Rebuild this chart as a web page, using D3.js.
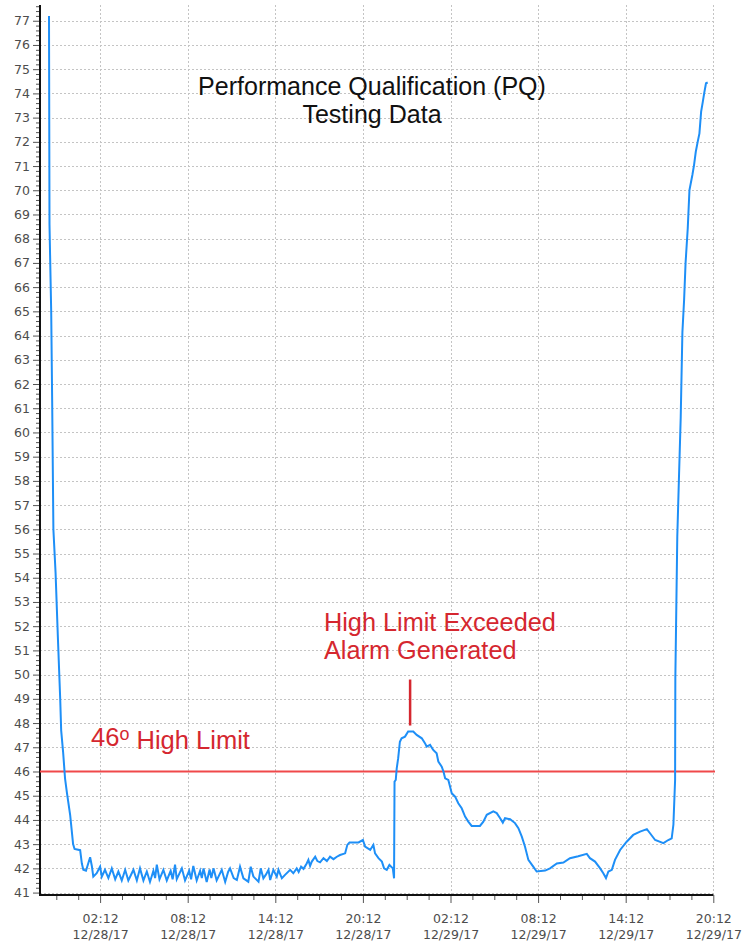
<!DOCTYPE html>
<html><head><meta charset="utf-8">
<script src="https://cdn.jsdelivr.net/npm/d3@7"></script>
<style>body{margin:0;background:#fff}svg{display:block}</style>
</head><body><svg id="chart" width="743" height="942"></svg>
<script>
// ---- data ----
const times = [
"12/27/17 22:42","12/27/17 22:44","12/27/17 22:51","12/27/17 22:55","12/27/17 23:00","12/27/17 23:09","12/27/17 23:19","12/27/17 23:28","12/27/17 23:32","12/27/17 23:40","12/27/17 23:48","12/27/17 23:56",
"12/28/17 00:09","12/28/17 00:21","12/28/17 00:27","12/28/17 00:50","12/28/17 00:57","12/28/17 01:03","12/28/17 01:14","12/28/17 01:20","12/28/17 01:31","12/28/17 01:38","12/28/17 01:44","12/28/17 01:58",
"12/28/17 02:12","12/28/17 02:19","12/28/17 02:32","12/28/17 02:46","12/28/17 03:00","12/28/17 03:14","12/28/17 03:27","12/28/17 03:41","12/28/17 03:55","12/28/17 04:08","12/28/17 04:29","12/28/17 04:43",
"12/28/17 04:56","12/28/17 05:10","12/28/17 05:24","12/28/17 05:37","12/28/17 05:51","12/28/17 05:58","12/28/17 06:05","12/28/17 06:16","12/28/17 06:32","12/28/17 06:46","12/28/17 07:02","12/28/17 07:10",
"12/28/17 07:20","12/28/17 07:27","12/28/17 07:48","12/28/17 08:01","12/28/17 08:18","12/28/17 08:26","12/28/17 08:35","12/28/17 08:49","12/28/17 09:03","12/28/17 09:10","12/28/17 09:17","12/28/17 09:30",
"12/28/17 09:42","12/28/17 09:49","12/28/17 09:58","12/28/17 10:11","12/28/17 10:32","12/28/17 10:46","12/28/17 10:58","12/28/17 11:06","12/28/17 11:21","12/28/17 11:34","12/28/17 11:47","12/28/17 12:01",
"12/28/17 12:21","12/28/17 12:31","12/28/17 12:42","12/28/17 13:03","12/28/17 13:12","12/28/17 13:23","12/28/17 13:34","12/28/17 13:44","12/28/17 13:51","12/28/17 14:04","12/28/17 14:18","12/28/17 14:25",
"12/28/17 14:39","12/28/17 14:52","12/28/17 15:13","12/28/17 15:26","12/28/17 15:40","12/28/17 15:48","12/28/17 15:58","12/28/17 16:08","12/28/17 16:21","12/28/17 16:28","12/28/17 16:35","12/28/17 16:42",
"12/28/17 16:56","12/28/17 17:05","12/28/17 17:16","12/28/17 17:30","12/28/17 17:44","12/28/17 17:57","12/28/17 18:11","12/28/17 18:25","12/28/17 18:38","12/28/17 18:59","12/28/17 19:08","12/28/17 19:17",
"12/28/17 19:54","12/28/17 20:12","12/28/17 20:21","12/28/17 20:42","12/28/17 20:55","12/28/17 21:02","12/28/17 21:16","12/28/17 21:30","12/28/17 21:39","12/28/17 21:50","12/28/17 22:01","12/28/17 22:15",
"12/28/17 22:20","12/28/17 22:22","12/28/17 22:27","12/28/17 22:31","12/28/17 22:37","12/28/17 22:44","12/28/17 22:51","12/28/17 23:05","12/28/17 23:18","12/28/17 23:39","12/28/17 23:53",
"12/29/17 00:14","12/29/17 00:27","12/29/17 00:34","12/29/17 00:48","12/29/17 01:01","12/29/17 01:15","12/29/17 01:22","12/29/17 01:36","12/29/17 01:43","12/29/17 01:50","12/29/17 02:03","12/29/17 02:10",
"12/29/17 02:17","12/29/17 02:31","12/29/17 02:44","12/29/17 02:58","12/29/17 03:12","12/29/17 03:25","12/29/17 03:39","12/29/17 04:13","12/29/17 04:27","12/29/17 04:41","12/29/17 05:08","12/29/17 05:22",
"12/29/17 05:36","12/29/17 05:47","12/29/17 05:56","12/29/17 06:17","12/29/17 06:37","12/29/17 06:51","12/29/17 07:05","12/29/17 07:18","12/29/17 07:32","12/29/17 07:52","12/29/17 08:06","12/29/17 08:41",
"12/29/17 09:01","12/29/17 09:29","12/29/17 09:56","12/29/17 10:23","12/29/17 10:57","12/29/17 11:32","12/29/17 11:45","12/29/17 12:06","12/29/17 12:27","12/29/17 12:40","12/29/17 12:51","12/29/17 13:01",
"12/29/17 13:15","12/29/17 13:28","12/29/17 13:49","12/29/17 14:16","12/29/17 14:43","12/29/17 15:11","12/29/17 15:39","12/29/17 15:52","12/29/17 16:13","12/29/17 16:47","12/29/17 17:07","12/29/17 17:21",
"12/29/17 17:28","12/29/17 17:35","12/29/17 17:36","12/29/17 17:44","12/29/17 17:51","12/29/17 17:58","12/29/17 18:05","12/29/17 18:12","12/29/17 18:18","12/29/17 18:27","12/29/17 18:34","12/29/17 18:46",
"12/29/17 18:53","12/29/17 19:00","12/29/17 19:08","12/29/17 19:15","12/29/17 19:22","12/29/17 19:29","12/29/17 19:35","12/29/17 19:42","12/29/17 19:49"
];
const temps = [
77.2,68.6,65.0,61.3,56.0,54.2,51.4,49.0,47.7,46.8,45.7,45.1,
44.2,43.0,42.8,42.75,42.2,41.94,41.9,42.1,42.46,42.1,41.66,41.8,
42.07,41.66,41.94,41.6,42.0,41.55,41.87,41.5,41.94,41.5,41.94,41.5,
42.0,41.5,41.87,41.44,41.9,41.6,42.15,41.55,41.94,41.5,41.9,41.55,
42.15,41.55,42.0,41.5,41.9,41.55,42.1,41.5,41.9,41.6,42.0,41.44,
41.95,41.6,42.0,41.5,41.94,41.44,41.85,42.0,41.6,41.52,42.07,41.59,
41.45,42.07,41.66,41.45,42.0,41.59,41.75,41.94,41.52,41.94,41.66,41.94,
41.59,41.73,41.94,41.8,42.0,41.85,42.07,41.98,42.2,42.35,42.1,42.28,
42.48,42.3,42.25,42.42,42.3,42.48,42.38,42.48,42.55,42.62,42.97,43.07,
43.07,43.17,42.9,42.76,42.97,42.62,42.42,42.28,42.0,41.94,42.14,42.0,
41.59,45.58,45.65,46.13,46.55,47.23,47.37,47.44,47.65,47.65,47.51,
47.37,47.17,47.03,47.1,46.89,46.75,46.41,46.2,46.0,45.72,45.65,45.38,
45.1,44.96,44.69,44.48,44.14,43.93,43.75,43.75,43.93,44.21,44.35,44.28,
44.07,43.89,44.07,44.03,43.87,43.66,43.31,42.9,42.35,42.07,41.87,41.91,
42.0,42.2,42.24,42.42,42.5,42.6,42.42,42.28,42.0,41.8,41.6,41.87,
41.94,42.35,42.76,43.1,43.38,43.52,43.62,43.45,43.17,43.04,43.17,43.24,
43.8,45.65,49.85,55.7,58.18,60.59,64.14,65.47,66.99,68.43,70.01,70.63,
71.05,71.59,72.01,72.35,73.25,73.66,74.03,74.42,74.45
];
const xTickTimes = ["12/28/17 02:12","12/28/17 08:12","12/28/17 14:12","12/28/17 20:12","12/29/17 02:12","12/29/17 08:12","12/29/17 14:12","12/29/17 20:12"];
const yTickValues = [41,42,43,44,45,46,47,48,49,50,51,52,53,54,55,56,57,58,59,60,61,62,63,64,65,66,67,68,69,70,71,72,73,74,75,76,77];
const xDomainTimes = ["12/27/17 22:05","12/29/17 20:12"];
const yDomain = [40.9, 77.65];
const highLimit = 46;
const alarmTime = "12/28/17 23:26";
const titleLines = ["Performance Qualification (PQ)", "Testing Data"];
const alarmLines = ["High Limit Exceeded", "Alarm Generated"];
const limitLabel = ["46", "o", " High Limit"];

// ---- drawing ----
(function draw() {
const parse = d3.timeParse("%m/%d/%y %H:%M");
const data = times.map((t, i) => ({t: parse(t), v: temps[i]}));
const svg = d3.select("#chart");
svg.append("rect").attr("width", 743).attr("height", 942).attr("fill", "#fff");

const pL = 40, pR = 713.3, pT = 5, pB = 895, gridRight = 715;
const x = d3.scaleTime().domain(xDomainTimes.map(parse)).range([pL, pR]);
const y = d3.scaleLinear().domain(yDomain).range([pB, pT]);
const xMajor = xTickTimes.map(parse);

// grid
const grid = svg.append("g").attr("stroke", "#c4c4c4").attr("stroke-width", 1).attr("stroke-dasharray", "2,2");
grid.selectAll("line.h").data(yTickValues).join("line").attr("class", "h")
  .attr("x1", pL).attr("x2", gridRight).attr("y1", d => Math.round(y(d)) + 0.5).attr("y2", d => Math.round(y(d)) + 0.5);
grid.selectAll("line.v").data(xMajor).join("line").attr("class", "v")
  .attr("y1", pT).attr("y2", pB).attr("x1", d => Math.round(x(d)) + 0.5).attr("x2", d => Math.round(x(d)) + 0.5);

// minor ticks
const yMinor = d3.range(Math.ceil(yDomain[0] * 5), Math.floor(yDomain[1] * 5) + 1).map(k => k / 5)
  .filter(v => Math.abs(v - Math.round(v)) > 1e-6);
const xMinor = [];
{
  const step = 90;
  let t = d3.timeMinute.offset(xMajor[0], -step * 4);
  while (t <= x.domain()[1]) { if (t >= x.domain()[0] && !xMajor.some(m => +m === +t)) xMinor.push(t); t = d3.timeMinute.offset(t, step); }
}
const tickColor = "#555";
const gYm = svg.append("g").attr("transform", `translate(${pL},0)`).call(d3.axisLeft(y).tickValues(yMinor).tickSize(4).tickFormat(""));
const gXm = svg.append("g").attr("transform", `translate(0,${pB})`).call(d3.axisBottom(x).tickValues(xMinor).tickSize(5).tickFormat(""));
const gY = svg.append("g").attr("transform", `translate(${pL},0)`).call(d3.axisLeft(y).tickValues(yTickValues).tickSize(7).tickPadding(3).tickFormat(d3.format("d")));
const gX = svg.append("g").attr("transform", `translate(0,${pB})`).call(d3.axisBottom(x).tickValues(xMajor).tickSize(8).tickFormat(""));

[gYm, gXm, gY, gX].forEach(g => {
  g.select(".domain").remove();
  g.selectAll(".tick line").attr("stroke", tickColor).attr("stroke-width", 1);
});
gY.selectAll(".tick text").attr("font-family", "DejaVu Sans").attr("font-size", 12.5).attr("fill", "#4d4d4d");

// x tick labels (two lines)
const fTime = d3.timeFormat("%H:%M"), fDate = d3.timeFormat("%m/%d/%y");
gX.selectAll(".tick").each(function(d) {
  const t = d3.select(this).select("text");
  t.text(null).attr("y", null).attr("dy", null)
    .attr("font-family", "DejaVu Sans").attr("font-size", 12.5).attr("fill", "#4d4d4d").attr("text-anchor", "middle");
  t.append("tspan").attr("x", 0).attr("y", 27.5).text(fTime(d));
  t.append("tspan").attr("x", 0).attr("y", 44.3).text(fDate(d));
});

// axis lines
svg.append("line").attr("x1", pL).attr("x2", pL).attr("y1", pT).attr("y2", pB + 1).attr("stroke", "#111").attr("stroke-width", 2);
svg.append("line").attr("x1", pL - 1).attr("x2", pR).attr("y1", pB).attr("y2", pB).attr("stroke", "#111").attr("stroke-width", 2);

// high limit line
svg.append("line").attr("x1", pL).attr("x2", gridRight).attr("y1", y(highLimit)).attr("y2", y(highLimit))
  .attr("stroke", "#f0484a").attr("stroke-width", 2);

// data line
const line = d3.line().x(d => x(d.t)).y(d => y(d.v));
svg.append("path").datum(data).attr("d", line).attr("fill", "none")
  .attr("stroke", "#1e8ff7").attr("stroke-width", 2).attr("stroke-linejoin", "miter");

const FONT = "'Liberation Sans', Arial, sans-serif";

// title (one text element per line)
const tEls = titleLines.map((s, i) => svg.append("text").attr("font-family", FONT).attr("font-size", 22)
  .attr("fill", "#111").attr("text-anchor", "middle").attr("x", 372).attr("y", 95 + i * 28).text(s));
{ const w = tEls[0].node().getComputedTextLength(); if (w > 0) tEls.forEach(e => e.attr("font-size", 22 * 348 / w)); }

// annotations
const red = "#d5272f";
const aEls = alarmLines.map((s, i) => svg.append("text").attr("font-family", FONT).attr("font-size", 21)
  .attr("fill", red).attr("x", 324).attr("y", 631 + i * 28).text(s));
{ const w = aEls[0].node().getComputedTextLength(); if (w > 0) aEls.forEach(e => e.attr("font-size", 21 * 232 / w)); }
const peak = d3.max(temps.slice(100, 160));
const ax = x(parse(alarmTime));
svg.append("line").attr("x1", ax).attr("x2", ax).attr("y1", y(peak) - 52).attr("y2", y(peak) - 6)
  .attr("stroke", red).attr("stroke-width", 2.5);

const lim = svg.append("text").attr("font-family", FONT).attr("font-size", 21).attr("fill", red).attr("x", 91).attr("y", 746);
lim.append("tspan").text(limitLabel[0]);
lim.append("tspan").attr("font-size", "0.7em").attr("dy", "-0.33em").text(limitLabel[1]);
lim.append("tspan").attr("dy", "0.33em").text(limitLabel[2]);
{ const w = lim.node().getComputedTextLength(); if (w > 0) lim.attr("font-size", 21 * 159 / w); }
})();
</script></body></html>
